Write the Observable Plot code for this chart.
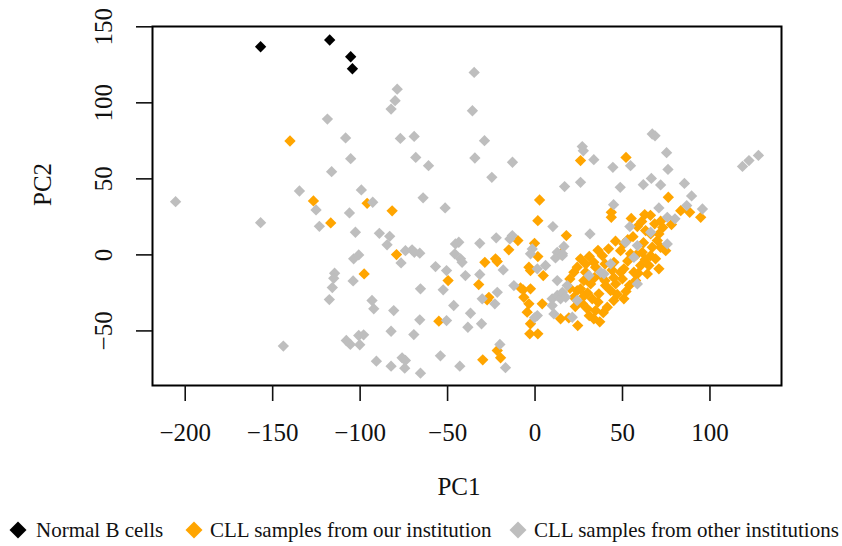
<!DOCTYPE html>
<html>
<head>
<meta charset="utf-8">
<script src="https://cdn.jsdelivr.net/npm/d3@7"></script>
<script src="https://cdn.jsdelivr.net/npm/@observablehq/plot@0.6"></script>
<style>
  html, body { margin: 0; padding: 0; background: #fff; }
  #wrap { position: relative; width: 842px; height: 546px; font-family: "Liberation Serif", "Times New Roman", serif; }
  #legend { position: relative; width: 842px; height: 32px; font-size: 21px; color: #111; }
  .item { position: absolute; top: 0; height: 32px; line-height: 32px; white-space: nowrap; }
  .sym { position: absolute; top: 10px; width: 12px; height: 12px; transform: rotate(45deg); }
</style>
</head>
<body>
<div id="wrap"><div id="chart"></div><div id="legend"></div></div>
<script>
// Group labels and colours
const groups = ["Normal B cells", "CLL samples from our institution", "CLL samples from other institutions"];
const groupColors = ["#000000", "#FFA500", "#BEBEBE"];
const xTicks = [-200, -150, -100, -50, 0, 50, 100];
const yTicks = [-50, 0, 50, 100, 150];

// [PC1, PC2]
const normalB = [[-156.9,136.9],[-117.4,141.3],[-105.4,130.3],[-104.4,122.4]];

const ourCLL = [
  [-140.1,74.9],[-126.7,35.5],[-96,33.9],[-116.8,21],[-97.7,-12.5],[-81.7,29],[2.6,36.1],[26,62],[52,64.1],[76.2,37.9],
  [1.6,22.5],[17.9,12.7],[-79.2,0.2],[-9.8,9.4],[-15,3.3],[-0.3,7.6],[1.6,-1.1],[-49.7,-16.9],[-32.2,-19.5],[-28.7,-4.9],
  [-22.6,-2.6],[-21.6,-4.4],[-26.4,-27.9],[-27.4,-29.6],[-6.8,-23],[-8.3,-21.7],[-2.6,-22.3],[-6.4,-27.9],[-3.5,-32.2],[-4.5,-37.7],
  [4.1,-32.2],[-2.6,-45.3],[-3,-51.9],[1.6,-51.9],[24.4,-46.5],[14.6,-42],[19.3,-41.4],[22.2,-11.4],[19.9,-15.8],[24.1,-23.5],
  [22.2,-27.9],[14.6,0.7],[-3.5,-8.1],[-2.6,-10.3],[4.7,-13.6],[-55,-43.6],[-29.9,-69],[-21.6,-62.9],[-19.7,-67.7],
  [43.6,28],[43.6,24.7],[62.7,26.5],[83.3,29.1],[88.4,28],[94.7,24.7],[58.5,18.6],[63.2,16],[68.4,20.4],[71.8,22.1],
  [66.1,13.8],[70.8,13.8],[69.9,9.4],[74.7,2.8],[71.8,5],[50.8,7.2],[48.9,2.8],[54.6,0.7],[61.3,1.7],[66.1,-0.5],
  [68.9,-2.6],[65.1,-7],[70.8,-9.2],[60.4,-7],[56.5,-11.4],[64.2,-12.5],[57.5,-16.9],[50.8,-9.2],[45.1,-4.9],[38.5,-0.5],
  [33.6,-4.9],[26,-2.6],[24.1,-8.1],[28.9,-11.4],[34.6,-8.1],[48.9,-11.4],[49.9,-15.8],[46.1,-19.1],[40.3,-20.2],[43.2,-23.5],
  [36.5,-25.6],[31.8,-19.1],[27.9,-16.9],[26,-22.3],[32.7,-28.9],[29.9,-35.5],[34.6,-36.6],[41.3,-34.4],[50.8,-28.9],[33.6,-42],
  [38,-14],[30,-25],[36,-31],[44,-10],[53,-4],[40,-6],[29,-6],[62,8],[56,12],[47,-26],
  [31,-1],[36,3],[42,4],[46,9],[53,10],[58,0],[63,-3],[67,5],[59,-12],[54,-20],
  [52,-24],[45,-30],[39,-38],[37,-44],[31,-40],[27,-32],[23,-34],[28,-27],[20,-22],[34,-15],
  [40,-17],[45,-15],[73,18],[78,20],[61,22],[55,24],[66,26]
];

const otherCLL = [
  [-118.7,89.3],[-108.3,76.9],[-105.4,63.3],[-116.3,54.7],[-134.7,42],[-99.3,42.7],[-205.5,35],[-125.2,29.6],[-106.1,27.6],
  [-156.9,21.2],[-123.3,18.8],[-102.7,14.9],[-103.7,-2.6],[-100.8,0],[-114.6,-12.1],[-115.1,-15.4],[-104,-17.1],[-115.9,-21.5],[-117.6,-29.4],
  [-143.9,-60],[-107.9,-56.3],[-105.6,-58.9],[-100.8,-53],[-98,-52.6],[-100.2,-59.1],
  [-34.8,120],[-78.8,109],[-80,101.4],[-82.3,95.9],[-35.8,94.8],[-77,76.6],[-69.1,77.9],[-28.9,75.1],[-68.2,64.1],[-34.4,63.7],
  [-60.9,58.7],[-12.9,60.9],[-24.7,51],[16.9,44.9],[-92.8,34.6],[-64,37.5],[-51.4,30.9],
  [67,79.5],[68.6,78.3],[27,71.2],[27.6,68.5],[33.6,62.6],[54.6,58.7],[44.5,57.6],[75.2,67.2],[76,56.2],[26,47.7],
  [48.7,44.4],[61.9,46.2],[66.5,50.3],[71.8,46],[85.4,47],[89.5,38.8],[118.6,58.2],[122.3,62],[127.7,65.4],[44.9,33],
  [70.8,30.9],[86.7,32.4],[95.7,30.2],
  [75.6,24.7],[80,23.7],[31.4,13.8],[54.2,18.6],[51.8,8.3],[58.5,6.1],[56.5,-1.6],[66.1,14.9],[75.6,7.2],[43.2,-5.9],
  [37.5,-11.4],[39.4,-12.5],[30.8,-13.6],[24.1,-30],[21.3,-41],[58.5,-19.1],
  [-89,14.2],[-83.1,12.2],[-84.6,6.6],[-76.6,-5.3],[-74.1,2.8],[-70.3,3.3],[-65.9,1.1],[-69,1.7],[10.2,18.6],[-43.6,8.3],
  [-45.5,7.2],[-45.9,0.7],[-42.6,-2.6],[-41.7,-4.9],[-31.6,7.6],[-22.2,11.2],[-13,12.7],[-14.4,10.5],[-1.6,3.9],[-2.6,0.7],
  [11.7,-2],[16.5,5.5],[15.7,0.7],[-56.9,-7.7],[-50.6,-10.3],[-52.5,-23],[-39.8,-13.6],[-31.6,-12.9],[-18.2,-9.9],[-30.2,-28.9],
  [-21.6,-24.6],[-23,-32.2],[-12.1,-20.2],[1.3,-39.9],[-0.3,-41.4],[12.7,-16.9],[9.8,-28.9],[12.7,-26.7],[14.6,-28.9],[9.8,-33.3],
  [10.8,-38.8],[18.4,-20.2],[15.6,-24.6],[17.5,-27.9],[12.7,1.7],[15.6,-0.5],[6,-7],[1.3,-9.2],[-93.2,-30],[-92.2,-35.5],
  [-80.8,-36.6],[-65.5,-22.3],[-46.5,-33.3],[-36.9,-38.4],[-30.6,-45.3],[-38.4,-47.6],[-65.9,-42.7],[-82.3,-50.2],[-69.3,-52.4],[-50.6,-43.2],
  [-90.7,-69.9],[-82.3,-73.2],[-76,-67.7],[-74.1,-69.4],[-74.5,-74.5],[-65.5,-77.8],[-54.1,-66.4],[-43,-73.2],[-20.1,-58.9],[-16.9,-74.2]
];

const fmt = d => d < 0 ? "\u2212" + (-d) : String(d);
const font = "Liberation Serif, Times New Roman, serif";
const R = 5.1;

const chart = Plot.plot({
  width: 842,
  height: 514,
  marginLeft: 152,
  marginRight: 61,
  marginTop: 26,
  marginBottom: 129,
  style: { fontFamily: font, background: "#fff", overflow: "visible" },
  x: { domain: [-218.7, 140.9] },
  y: { domain: [-85.9, 150.2] },
  marks: [
    Plot.dot(ourCLL, { x: d => d[0], y: d => d[1], symbol: "diamond2", r: R, fill: groupColors[1], stroke: "none" }),
    Plot.dot(otherCLL, { x: d => d[0], y: d => d[1], symbol: "diamond2", r: R, fill: groupColors[2], stroke: "none" }),
    Plot.dot(normalB, { x: d => d[0], y: d => d[1], symbol: "diamond2", r: R, fill: groupColors[0], stroke: "none" }),
    Plot.frame({ stroke: "#000", strokeWidth: 2 }),
    Plot.axisX({ ticks: xTicks, tickFormat: fmt, tickSize: 16, tickPadding: 22, fontSize: 25, strokeWidth: 1.6, label: null, color: "#111" }),
    Plot.axisY({ ticks: yTicks, tickFormat: fmt, tickSize: 16, tickPadding: 25, tickRotate: -90, fontSize: 25, strokeWidth: 1.6, label: null, color: "#111" }),
    Plot.text(["PC1"], { frameAnchor: "bottom", dx: -8, dy: 109, text: d => d, fontSize: 25, fill: "#111" }),
    Plot.text(["PC2"], { frameAnchor: "left", dx: -110, rotate: -90, text: d => d, fontSize: 25, fill: "#111" })
  ]
});
document.getElementById("chart").appendChild(chart);

// Legend below the chart
const legend = document.getElementById("legend");
const symX = [18, 194, 518];
const textX = [36, 210, 534];
groups.forEach((g, i) => {
  const s = document.createElement("div");
  s.className = "sym";
  s.style.left = (symX[i] - 6) + "px";
  s.style.background = groupColors[i];
  legend.appendChild(s);
  const t = document.createElement("div");
  t.className = "item";
  t.style.left = textX[i] + "px";
  t.textContent = g;
  legend.appendChild(t);
});
</script>
</body>
</html>
